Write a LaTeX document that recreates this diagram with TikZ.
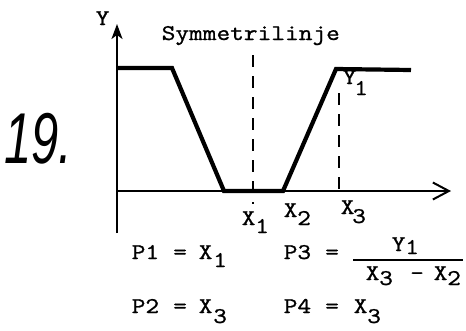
\documentclass[tikz,border=0pt]{standalone}
\usepackage{fontspec}
\newfontfamily\typew{lmmono10-regular.otf}[FakeBold=0.8]
\newfontfamily\handfont{Liberation Sans}
\usetikzlibrary{arrows.meta}
\begin{document}
\begin{tikzpicture}[x=1pt,y=-1pt,
  tt/.style={font=\typew\fontsize{22.5}{24}\selectfont, inner sep=0pt, anchor=base west, xscale=1.16},
  axis/.style={line width=2pt},
  curve/.style={line width=4.2pt, line join=miter},
  dline/.style={line width=1.8pt, dash pattern=on 12pt off 9pt}]
\useasboundingbox (0,0) rectangle (466,330);
% axes
\coordinate (ybot) at (117,233);
\coordinate (ytop) at (117,24);
\coordinate (xleft) at (117,191);
\coordinate (xend) at (451,191);
\draw[axis, -{Stealth[length=15pt,width=11pt,inset=4pt]}] (ybot) -- (ytop);
\draw[axis, -{Straight Barb[length=16pt,width=17pt]}] (xleft) -- (xend);
% curve
\coordinate (c0) at (117,68);
\coordinate (c1) at (172,68);
\coordinate (c2) at (224,191);
\coordinate (c3) at (283,191);
\coordinate (c4) at (336,69);
\coordinate (c5) at (411,70);
\draw[curve] (c0) -- (c1) -- (c2) -- (c3) -- (c4) -- (c5);
% dashed lines
\coordinate (s1) at (253,55);
\coordinate (s2) at (253,204);
\coordinate (d1) at (339,93);
\coordinate (d2) at (339,191);
\draw[dline] (s1) -- (s2);
\draw[dline] (d1) -- (d2);
% labels
\node[tt] (ylab) at (95.5,25) {Y};
\node[tt] (sym) at (161.5,40) {Symmetrilinje};
\node[tt] (y1a) at (342.5,84) {Y};
\node[tt] (y1b) at (354,95) {1};
\node[tt] (x1a) at (241.5,225) {X};
\node[tt] (x1b) at (255,233) {1};
\node[tt] (x2a) at (283.5,217) {X};
\node[tt] (x2b) at (297,225) {2};
\node[tt] (x3a) at (340.5,214) {X};
\node[tt] (x3b) at (352,223) {3};
% number
\node[font=\fontsize{72}{72}\selectfont\handfont\itshape, inner sep=0pt, anchor=base west, xscale=0.68] (num) at (4,163) {19.};
% formulas
\node[tt] (p1) at (131.5,259) {P1};
\node[tt] (p1eq) at (173,259) {=};
\node[tt] (p1x) at (198.5,259) {X};
\node[tt] (p1s) at (213,267) {1};
\node[tt] (p3) at (283.5,259) {P3};
\node[tt] (p3eq) at (325,259) {=};
\coordinate (fl) at (353,260);
\coordinate (fr) at (463,260);
\draw[line width=1.8pt] (fl) -- (fr);
\node[tt] (ny) at (391.5,251) {Y};
\node[tt] (n1) at (405,254) {1};
\node[tt] (dx3) at (365.5,280) {X};
\node[tt] (d3) at (379,285) {3};
\node[tt] (dm) at (410,280) {-};
\node[tt] (dx2) at (433.5,280) {X};
\node[tt] (d2n) at (447,285) {2};
\node[tt] (p2) at (131.5,313) {P2};
\node[tt] (p2eq) at (173,313) {=};
\node[tt] (p2x) at (198.5,313) {X};
\node[tt] (p2s) at (213,323) {3};
\node[tt] (p4) at (283.5,313) {P4};
\node[tt] (p4eq) at (325,313) {=};
\node[tt] (p4x) at (353.5,313) {X};
\node[tt] (p4s) at (367,323) {3};
\end{tikzpicture}
\end{document}
